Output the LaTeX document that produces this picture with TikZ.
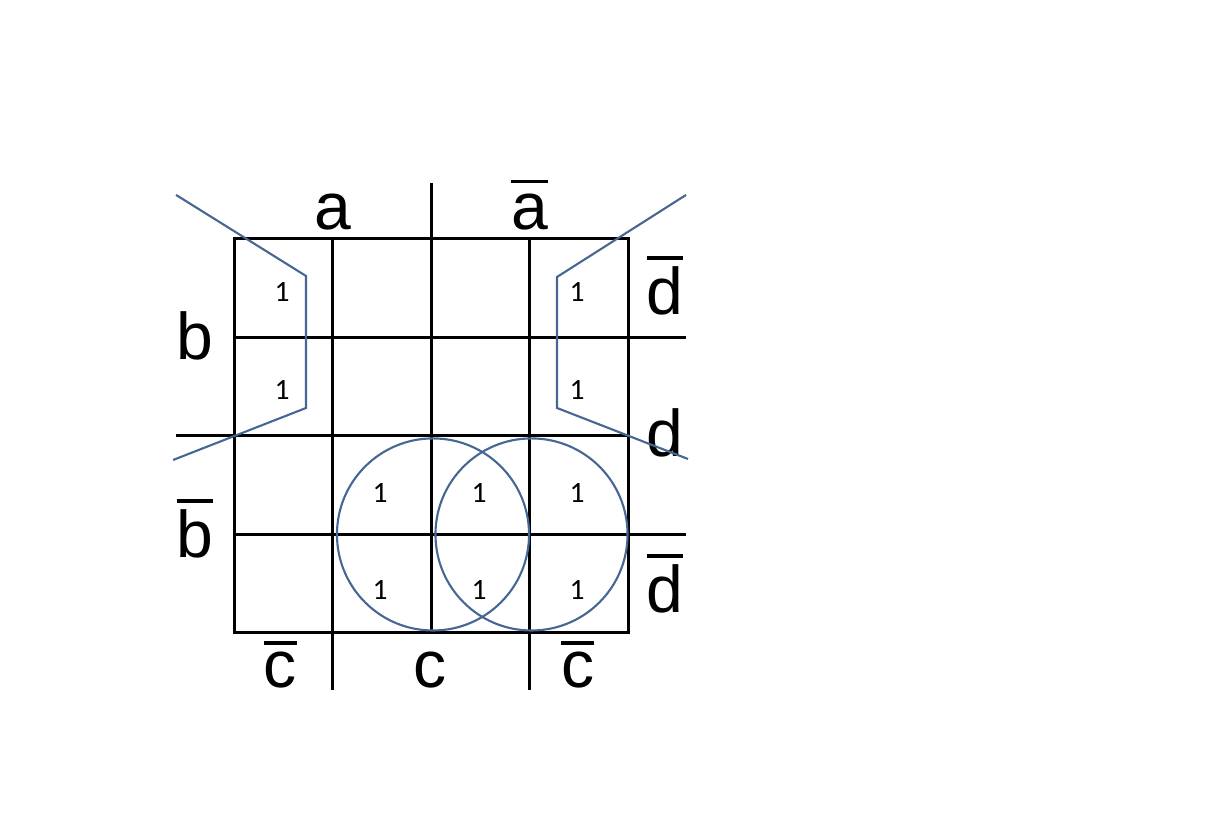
\documentclass[tikz,border=0pt]{standalone}
\usepackage{fontspec}
\setmainfont{Liberation Sans}
\newfontfamily\onefont{Carlito}
\usepackage{tikz}
\definecolor{loopblue}{RGB}{70,102,148}
\newcommand{\notv}[2][5pt]{\setbox0\hbox{#2}\vbox{\hrule height 2.8pt width \wd0\kern#1\box0}}

\begin{document}
\begin{tikzpicture}[x=2.4625cm, y=2.4625cm,
    gridline/.style={line width=2.1pt, black},
    group/.style={line width=1.5pt, loopblue},
    var/.style={font=\fontsize{47}{50}\selectfont, inner sep=0pt, anchor=base},
    one/.style={font=\onefont\fontsize{21}{24}\selectfont, inner sep=0pt}]
    \useasboundingbox (-2.376,-2.1015) rectangle (9.888,6.426);

    % Corners {tl, br} and line ends
    \coordinate (tl)      at (0,4);
    \coordinate (br)      at (4,0);
    \coordinate (ctop)    at (2,4.569);
    \coordinate (cbot)    at (2,0);
    \coordinate (atop)    at (1,4);
    \coordinate (aend)    at (1,-0.579);
    \coordinate (btop)    at (3,4);
    \coordinate (bend)    at (3,-0.579);
    \coordinate (rowA)    at (0,3);
    \coordinate (rowAend) at (4.589,3);
    \coordinate (rowB)    at (-0.589,2);
    \coordinate (rowBend) at (4,2);
    \coordinate (rowC)    at (0,1);
    \coordinate (rowCend) at (4.589,1);

    % Grid
    \draw [gridline] (tl) rectangle (br);
    \draw [gridline] (ctop) -- (cbot);
    \draw [gridline] (atop) -- (aend);
    \draw [gridline] (btop) -- (bend);
    \draw [gridline] (rowA) -- (rowAend);
    \draw [gridline] (rowB) -- (rowBend);
    \draw [gridline] (rowC) -- (rowCend);

    % Labels
    \node [var] (a)   at (1,4.091)      {a};
    \node [var] (na)  at (3,4.091)      {\notv[7.8pt]{a}};
    \node [var] (b)   at (-0.396,2.772) {b};
    \node [var] (nb)  at (-0.396,0.761) {\notv{b}};
    \node [var] (nd1) at (4.376,3.228)  {\notv{d}};
    \node [var] (d)   at (4.376,1.787)  {d};
    \node [var] (nd2) at (4.376,0.203)  {\notv{d}};
    \node [var] (nc1) at (0.467,-0.558) {\notv{c}};
    \node [var] (c)   at (1.99,-0.558)  {c};
    \node [var] (nc2) at (3.49,-0.558)  {\notv{c}};

    % Ones
    \node [one] (m1)  at (0.487,3.457) {1};
    \node [one] (m2)  at (0.487,2.467) {1};
    \node [one] (m3)  at (3.482,3.457) {1};
    \node [one] (m4)  at (3.482,2.467) {1};
    \node [one] (m5)  at (1.482,1.421) {1};
    \node [one] (m6)  at (2.487,1.421) {1};
    \node [one] (m7)  at (3.482,1.421) {1};
    \node [one] (m8)  at (1.482,0.437) {1};
    \node [one] (m9)  at (2.487,0.437) {1};
    \node [one] (m10) at (3.482,0.437) {1};

    % Groups
    \draw [group] (-0.589,4.447) -- (0.731,3.624) -- (0.731,2.284) -- (-0.619,1.756);
    \draw [group] (4.589,4.447) -- (3.279,3.614) -- (3.279,2.284) -- (4.609,1.766);
    \draw [group] (2.02,1) circle [radius=0.975];
    \draw [group] (3.02,1) circle [radius=0.975];

\end{tikzpicture}
\end{document}
